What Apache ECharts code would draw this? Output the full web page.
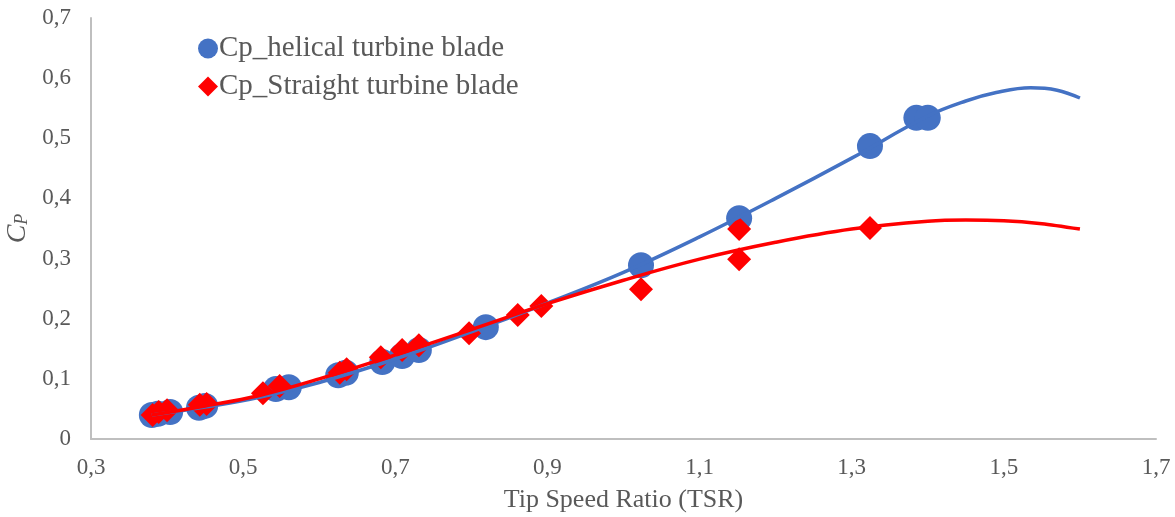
<!DOCTYPE html>
<html>
<head>
<meta charset="utf-8">
<script src="https://cdn.jsdelivr.net/npm/echarts@6/dist/echarts.min.js"></script>
<style>
  html, body { margin: 0; padding: 0; background: #fff; }
  #chart { width: 1175px; height: 517px; }
</style>
</head>
<body>
<div id="chart"></div>
<script>
const helicalTsr = [0.380, 0.388, 0.404, 0.442, 0.450, 0.543, 0.560, 0.625, 0.635, 0.683, 0.709, 0.731, 0.819, 1.023, 1.152, 1.324, 1.385, 1.400];
const helicalCp  = [0.040, 0.042, 0.045, 0.052, 0.055, 0.083, 0.086, 0.106, 0.110, 0.128, 0.138, 0.148, 0.186, 0.289, 0.367, 0.487, 0.534, 0.534];

const straightTsr = [0.381, 0.389, 0.400, 0.443, 0.452, 0.526, 0.548, 0.627, 0.636, 0.681, 0.709, 0.731, 0.797, 0.861, 0.892, 1.023, 1.152, 1.152, 1.324];
const straightCp  = [0.040, 0.045, 0.048, 0.057, 0.058, 0.076, 0.088, 0.110, 0.116, 0.136, 0.148, 0.156, 0.176, 0.206, 0.221, 0.249, 0.349, 0.299, 0.351];

// trend curves
const helicalTrendTsr = [0.38, 0.45, 0.52, 0.6, 0.7, 0.8, 0.9, 1.0, 1.1, 1.2, 1.3, 1.4, 1.45, 1.49, 1.535, 1.57, 1.6];
const helicalTrend    = [0.040, 0.053, 0.069, 0.094, 0.133, 0.178, 0.226, 0.277, 0.336, 0.400, 0.467, 0.537, 0.562, 0.576, 0.584, 0.580, 0.567];
const straightTrendTsr = [0.38, 0.45, 0.52, 0.6, 0.7, 0.8, 0.9, 1.0, 1.1, 1.2, 1.3, 1.4, 1.45, 1.5, 1.55, 1.6];
const straightTrend    = [0.040, 0.055, 0.072, 0.100, 0.140, 0.182, 0.225, 0.264, 0.299, 0.327, 0.349, 0.362, 0.364, 0.363, 0.358, 0.349];

const zip = (xs, ys) => xs.map((x, i) => [x, ys[i]]);
const comma = (v) => (Math.round(v * 10) / 10 === 0 ? '0' : v.toFixed(1).replace('.', ','));

const chart = echarts.init(document.getElementById('chart'));
const font = 'Liberation Serif';
const grey = '#595959';

chart.setOption({
  animation: false,
  textStyle: { fontFamily: font },
  grid: { left: 91, right: 19, top: 18, bottom: 78, outerBoundsMode: 'none', containLabel: false },
  legend: {
    orient: 'vertical',
    left: 193,
    top: 29,
    itemWidth: 20,
    itemHeight: 20,
    itemGap: 9,
    data: ['Cp_helical turbine blade', 'Cp_Straight turbine blade'],
    textStyle: { fontFamily: font, fontSize: 29, color: grey, padding: [0, 0, 0, -4] }
  },
  xAxis: {
    type: 'value',
    min: 0.3,
    max: 1.7,
    interval: 0.2,
    name: 'Tip Speed Ratio (TSR)',
    nameLocation: 'middle',
    nameGap: 48,
    nameTextStyle: { fontFamily: font, fontSize: 26, color: grey },
    axisLine: { show: true, lineStyle: { color: '#BFBFBF', width: 2 } },
    axisTick: { show: false },
    splitLine: { show: false },
    axisLabel: { fontFamily: font, fontSize: 23, color: grey, margin: 17, formatter: comma }
  },
  yAxis: {
    type: 'value',
    min: 0,
    max: 0.7,
    interval: 0.1,
    name: '{c|C}{p|P}',
    nameLocation: 'middle',
    nameGap: 54,
    nameRotate: 90,
    nameTextStyle: {
      rich: {
        c: { fontFamily: font, fontSize: 28, fontStyle: 'italic', color: grey },
        p: { fontFamily: font, fontSize: 18, fontStyle: 'italic', color: grey, verticalAlign: 'bottom', padding: [10, 0, 0, 0] }
      }
    },
    axisLine: { show: true, lineStyle: { color: '#BFBFBF', width: 2 } },
    axisTick: { show: false },
    splitLine: { show: false },
    axisLabel: { fontFamily: font, fontSize: 23, color: grey, margin: 20, formatter: comma }
  },
  series: [
    {
      name: 'Cp_helical turbine blade',
      type: 'scatter',
      symbol: 'circle',
      symbolSize: 26,
      itemStyle: { color: '#4472C4', opacity: 1 },
      data: zip(helicalTsr, helicalCp),
      z: 2
    },
    {
      name: 'Cp_Straight turbine blade',
      type: 'scatter',
      symbol: 'diamond',
      symbolSize: 24,
      itemStyle: { color: '#FF0000', opacity: 1 },
      data: zip(straightTsr, straightCp),
      z: 3
    },
    {
      name: 'helical trend',
      type: 'line',
      smooth: 0.4,
      showSymbol: false,
      lineStyle: { color: '#4472C4', width: 3.5 },
      data: zip(helicalTrendTsr, helicalTrend),
      z: 4
    },
    {
      name: 'straight trend',
      type: 'line',
      smooth: 0.4,
      showSymbol: false,
      lineStyle: { color: '#FF0000', width: 3.5 },
      data: zip(straightTrendTsr, straightTrend),
      z: 5
    }
  ]
});
</script>
</body>
</html>
